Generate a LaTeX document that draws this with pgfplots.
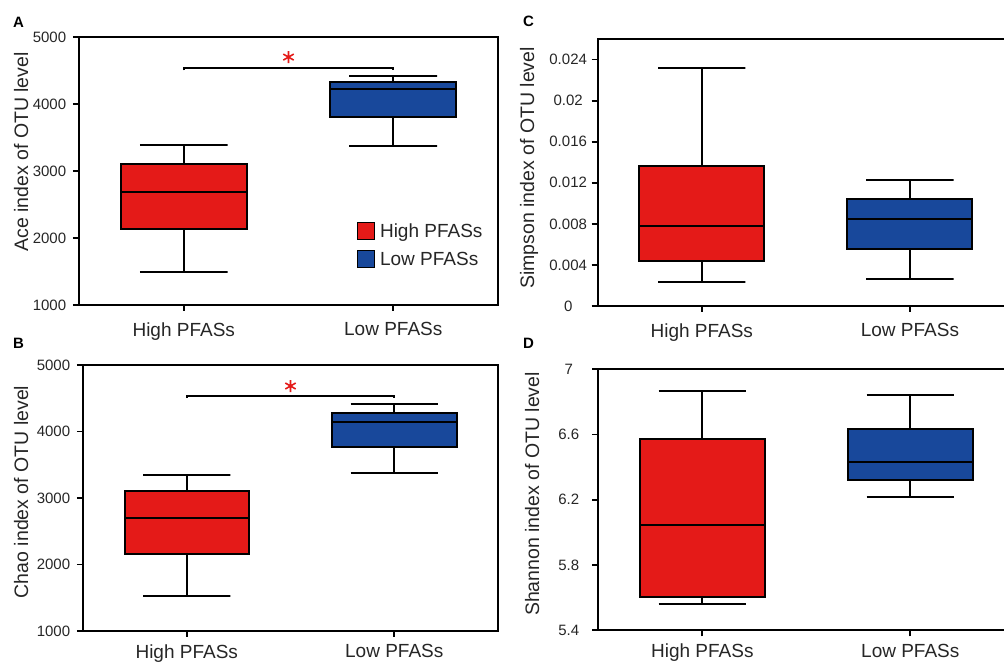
\documentclass[border=0pt]{standalone}
\usepackage{fontspec}
\setmainfont{Liberation Sans}
\usepackage{pgfplots}
\pgfplotsset{compat=1.18}
\definecolor{bred}{RGB}{228,26,24}
\definecolor{bblue}{RGB}{24,72,155}
\definecolor{txt}{RGB}{38,38,38}
\pgfplotsset{
 panel/.style={
  scale only axis, anchor=south west,
  xmin=-0.5, xmax=1.5, xtick={0,1}, xticklabels={High PFASs, Low PFASs},
  tick align=outside, xtick pos=bottom, ytick pos=left,
  major tick length=6pt,
  tick style={black, line width=1.8pt},
  axis line style={line width=2pt, black},
  tick label style={font=\fontsize{15}{18}\selectfont, text=txt},
  xticklabel style={font=\fontsize{19}{22}\selectfont, yshift=-8pt},
  yticklabel style={text width=40pt, align=center},
  label style={font=\fontsize{19.5}{22}\selectfont, text=txt},
  /pgf/number format/assume math mode=true,
  /pgf/number format/1000 sep={},
  scaled y ticks=false,
  clip=false,
 },
 lowpanel/.style={xticklabel style={yshift=4pt}},
 wk/.style={black, line width=2pt, forget plot, mark=none},
 rb/.style={fill=bred, draw=black, line width=2pt, forget plot, mark=none},
 lb/.style={fill=bblue, draw=black, line width=2pt, forget plot, mark=none},
}
\begin{document}
\begin{tikzpicture}
% Panel A
\begin{axis}[panel, at={(79pt,358pt)}, width=419pt, height=268pt,
  ymin=1000, ymax=5000, ytick={1000,2000,3000,4000,5000},
  ylabel={Ace index of OTU level},
  ylabel style={at={(axis description cs:-0.138,0.571)}, anchor=center}]
% High: lw 1498, q1 2141, med 2684, q3 3107, uw 3386
\addplot[wk] coordinates {(-0.21,3386) (0.21,3386) (0,3386) (0,3107)};
\addplot[wk] coordinates {(-0.21,1498) (0.21,1498) (0,1498) (0,2141)};
\addplot[rb] coordinates {(-0.3,2141) (0.3,2141) (0.3,3107) (-0.3,3107)} -- cycle;
\addplot[wk] coordinates {(-0.3,2684) (0.3,2684)};
% Low: lw 3366, q1 3800, med 4228, q3 4333, uw 4417
\addplot[wk] coordinates {(0.79,4417) (1.21,4417) (1,4417) (1,4333)};
\addplot[wk] coordinates {(0.79,3366) (1.21,3366) (1,3366) (1,3800)};
\addplot[lb] coordinates {(0.7,3800) (1.3,3800) (1.3,4333) (0.7,4333)} -- cycle;
\addplot[wk] coordinates {(0.7,4228) (1.3,4228)};
\addplot[black, line width=1.8pt, forget plot] coordinates {(0,4500) (0,4537) (1,4537) (1,4500)};
\addplot[only marks, mark=asterisk, mark size=6pt, bred, line width=1.6pt, forget plot] coordinates {(0.5,4700)};
\node[draw=black, fill=bred, minimum size=17pt, inner sep=0pt, line width=0.8pt] at (axis description cs:0.684,0.278) {};
\node[draw=black, fill=bblue, minimum size=17pt, inner sep=0pt, line width=0.8pt] at (axis description cs:0.684,0.1735) {};
\node[anchor=base west, inner sep=0pt, text=txt, font=\fontsize{19}{22}\selectfont] at (axis description cs:0.718,0.2526) {High PFASs};
\node[anchor=base west, inner sep=0pt, text=txt, font=\fontsize{19}{22}\selectfont] at (axis description cs:0.718,0.148) {Low PFASs};
\end{axis}
% Panel B
\begin{axis}[panel, lowpanel, at={(83pt,32pt)}, width=415pt, height=266pt,
  ymin=1000, ymax=5000, ytick={1000,2000,3000,4000,5000},
  ylabel={Chao index of OTU level},
  ylabel style={at={(axis description cs:-0.149,0.523)}, anchor=center}]
\addplot[wk] coordinates {(-0.21,3351) (0.21,3351) (0,3351) (0,3105)};
\addplot[wk] coordinates {(-0.21,1521) (0.21,1521) (0,1521) (0,2158)};
\addplot[rb] coordinates {(-0.3,2158) (0.3,2158) (0.3,3105) (-0.3,3105)} -- cycle;
\addplot[wk] coordinates {(-0.3,2694) (0.3,2694)};
\addplot[wk] coordinates {(0.79,4419) (1.21,4419) (1,4419) (1,4283)};
\addplot[wk] coordinates {(0.79,3371) (1.21,3371) (1,3371) (1,3762)};
\addplot[lb] coordinates {(0.7,3762) (1.3,3762) (1.3,4283) (0.7,4283)} -- cycle;
\addplot[wk] coordinates {(0.7,4138) (1.3,4138)};
\addplot[black, line width=1.8pt, forget plot] coordinates {(0,4502) (0,4539) (1,4539) (1,4502)};
\addplot[only marks, mark=asterisk, mark size=6pt, bred, line width=1.6pt, forget plot] coordinates {(0.5,4684)};
\end{axis}
% Panel C
\begin{axis}[panel, at={(597.7pt,357pt)}, width=416.3pt, height=267pt,
  ymin=0, ymax=0.026, ytick={0,0.004,0.008,0.012,0.016,0.02,0.024},
  yticklabels={0,0.004,0.008,0.012,0.016,0.02,0.024},
  ylabel={Simpson index of OTU level},
  ylabel style={at={(axis description cs:-0.165,0.517)}, anchor=center}]
\addplot[wk] coordinates {(-0.21,0.02313) (0.21,0.02313) (0,0.02313) (0,0.01368)};
\addplot[wk] coordinates {(-0.21,0.00231) (0.21,0.00231) (0,0.00231) (0,0.004365)};
\addplot[rb] coordinates {(-0.3,0.004365) (0.3,0.004365) (0.3,0.01368) (-0.3,0.01368)} -- cycle;
\addplot[wk] coordinates {(-0.3,0.00775) (0.3,0.00775)};
\addplot[wk] coordinates {(0.79,0.01231) (1.21,0.01231) (1,0.01231) (1,0.01039)};
\addplot[wk] coordinates {(0.79,0.002638) (1.21,0.002638) (1,0.002638) (1,0.005537)};
\addplot[lb] coordinates {(0.7,0.005537) (1.3,0.005537) (1.3,0.01039) (0.7,0.01039)} -- cycle;
\addplot[wk] coordinates {(0.7,0.008436) (1.3,0.008436)};
\end{axis}
% Panel D
\begin{axis}[panel, lowpanel, at={(598.3pt,32.7pt)}, width=416pt, height=261pt,
  ymin=5.4, ymax=7, ytick={5.4,5.8,6.2,6.6,7},
  yticklabels={5.4,5.8,6.2,6.6,7},
  ylabel={Shannon index of OTU level},
  ylabel style={at={(axis description cs:-0.159,0.522)}, anchor=center}]
\addplot[wk] coordinates {(-0.21,6.865) (0.21,6.865) (0,6.865) (0,6.571)};
\addplot[wk] coordinates {(-0.21,5.559) (0.21,5.559) (0,5.559) (0,5.604)};
\addplot[rb] coordinates {(-0.3,5.604) (0.3,5.604) (0.3,6.571) (-0.3,6.571)} -- cycle;
\addplot[wk] coordinates {(-0.3,6.045) (0.3,6.045)};
\addplot[wk] coordinates {(0.79,6.843) (1.21,6.843) (1,6.843) (1,6.637)};
\addplot[wk] coordinates {(0.79,6.218) (1.21,6.218) (1,6.218) (1,6.322)};
\addplot[lb] coordinates {(0.7,6.322) (1.3,6.322) (1.3,6.637) (0.7,6.637)} -- cycle;
\addplot[wk] coordinates {(0.7,6.429) (1.3,6.429)};
\end{axis}
% panel letters
\node[anchor=north west, inner sep=0pt, font=\fontsize{15}{16}\selectfont\bfseries] at (13pt,646pt) {A};
\node[anchor=north west, inner sep=0pt, font=\fontsize{15}{16}\selectfont\bfseries] at (523pt,647pt) {C};
\node[anchor=north west, inner sep=0pt, font=\fontsize{15}{16}\selectfont\bfseries] at (13pt,325pt) {B};
\node[anchor=north west, inner sep=0pt, font=\fontsize{15}{16}\selectfont\bfseries] at (523pt,325pt) {D};
\pgfresetboundingbox
\useasboundingbox (0,0) rectangle (1004pt,663pt);
\end{tikzpicture}
\end{document}
